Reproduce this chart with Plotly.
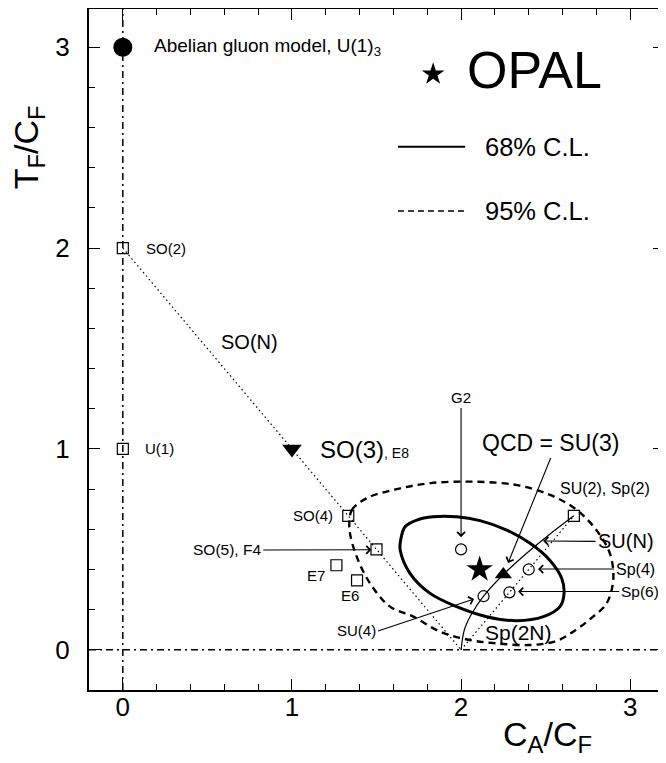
import plotly.graph_objects as go

# ---------------- data ----------------
abelian_x, abelian_y = [0.0], [3.0]
so3_x, so3_y = [1.0], [1.0]
qcd_x, qcd_y = [2.25], [0.375]
opal_x, opal_y = [2.11], [0.40]

square_names = ["SO(2)", "U(1)", "SO(4)", "SO(5)", "E7", "E6", "SU(2)"]
square_x = [0.0, 0.0, 1.333, 1.5, 1.263, 1.385, 2.667]
square_y = [2.0, 1.0, 0.667, 0.5, 0.421, 0.346, 0.667]

circle_names = ["G2", "SU(4)", "Sp(4)", "Sp(6)"]
circle_x = [2.0, 2.133, 2.4, 2.286]
circle_y = [0.5, 0.267, 0.4, 0.286]

son_x = [0.0, 2.0]
son_y = [2.0, 0.0]
sp2n_x = [2.0, 2.667]
sp2n_y = [0.0, 0.667]
sun_x = [2.667, 2.521, 2.381, 2.25, 2.133, 2.057, 2.02, 2.0]
sun_y = [0.667, 0.573, 0.476, 0.375, 0.267, 0.171, 0.101, 0.0]

cl68_x = [1.643, 1.669, 1.738, 1.836, 1.974, 2.112, 2.27, 2.408, 2.526, 2.595,
          2.609, 2.585, 2.487, 2.329, 2.151, 1.974, 1.817, 1.698, 1.64, 1.643]
cl68_y = [0.547, 0.613, 0.646, 0.662, 0.662, 0.643, 0.596, 0.53, 0.445, 0.356,
          0.281, 0.215, 0.165, 0.145, 0.165, 0.215, 0.281, 0.381, 0.497, 0.547]

cl95_x = [1.34, 1.354, 1.44, 1.62, 1.82, 2.07, 2.33, 2.53, 2.685, 2.80, 2.88, 2.90,
          2.86, 2.78, 2.68, 2.566, 2.41, 2.21, 2.05, 1.876, 1.718, 1.58, 1.461,
          1.383, 1.343, 1.34]
cl95_y = [0.64, 0.696, 0.754, 0.80, 0.83, 0.837, 0.82, 0.77, 0.696, 0.596, 0.48, 0.35,
          0.23, 0.165, 0.10, 0.045, 0.024, 0.032, 0.049, 0.09, 0.165, 0.215, 0.332,
          0.464, 0.58, 0.64]

x_ticks = [0, 1, 2, 3]
y_ticks = [0, 1, 2, 3]

FONT = "Liberation Sans, Arial, sans-serif"

fig = go.Figure()

# reference lines
fig.add_hline(y=0, line=dict(color="black", width=1.5, dash="7px,4px,2px,4px"))
fig.add_vline(x=0, line=dict(color="black", width=1.5, dash="7px,4px,2px,4px"))

# SO(N), Sp(2N) dotted lines, SU(N) curve
fig.add_trace(go.Scatter(x=son_x, y=son_y, mode="lines",
                         line=dict(color="black", width=1.2, dash="1.5px,3px")))
fig.add_trace(go.Scatter(x=sp2n_x, y=sp2n_y, mode="lines",
                         line=dict(color="black", width=1.2, dash="1.5px,3px")))
fig.add_trace(go.Scatter(x=sun_x, y=sun_y, mode="lines", line_shape="spline",
                         line=dict(color="black", width=1.2)))

# contours
fig.add_trace(go.Scatter(x=cl68_x, y=cl68_y, mode="lines", line_shape="spline",
                         line=dict(color="black", width=3)))
fig.add_trace(go.Scatter(x=cl95_x, y=cl95_y, mode="lines", line_shape="spline",
                         line=dict(color="black", width=2.4, dash="7px,5px")))

# markers
fig.add_trace(go.Scatter(x=square_x, y=square_y, mode="markers", text=square_names,
                         marker=dict(symbol="square-open", size=11, color="black",
                                     line=dict(width=1.2))))
fig.add_trace(go.Scatter(x=circle_x, y=circle_y, mode="markers", text=circle_names,
                         marker=dict(symbol="circle-open", size=11, color="black",
                                     line=dict(width=1.2))))
fig.add_trace(go.Scatter(x=abelian_x, y=abelian_y, mode="markers",
                         marker=dict(symbol="circle", size=19, color="black")))
fig.add_trace(go.Scatter(x=so3_x, y=so3_y, mode="markers",
                         marker=dict(symbol="triangle-down", size=17, color="black")))
fig.add_trace(go.Scatter(x=qcd_x, y=qcd_y, mode="markers",
                         marker=dict(symbol="triangle-up", size=15, color="black")))
fig.add_trace(go.Scatter(x=opal_x, y=opal_y, mode="markers",
                         marker=dict(symbol="star", size=20, color="black")))
# OPAL key marker
fig.add_trace(go.Scatter(x=[1.835], y=[2.866], mode="markers",
                         marker=dict(symbol="star", size=17, color="black")))

# key lines
fig.add_shape(type="line", x0=1.627, x1=2.024, y0=2.504, y1=2.504,
              line=dict(color="black", width=2))
fig.add_shape(type="line", x0=1.627, x1=2.024, y0=2.185, y1=2.185,
              line=dict(color="black", width=1.5, dash="6px,4px"))

ann = []
def label(text, x, y, size, xanchor="center"):
    ann.append(dict(text=text, x=x, y=y, xref="x", yref="y", showarrow=False,
                    xanchor=xanchor, yanchor="middle",
                    font=dict(family=FONT, size=size, color="black")))

def arrow_label(text, size, hx, hy, tx, ty, xanchor="center", yanchor="middle"):
    # text box anchored at the arrow tail, arrow drawn to the head
    ann.append(dict(text=text, x=hx, y=hy, ax=tx, ay=ty, xref="x", yref="y",
                    axref="x", ayref="y", showarrow=True, arrowhead=4,
                    arrowsize=1.4, arrowwidth=1.1, arrowcolor="black", standoff=0,
                    xanchor=xanchor, yanchor=yanchor,
                    font=dict(family=FONT, size=size, color="black")))

label("Abelian gluon model, U(1)<sub>3</sub>", 0.173, 3.0, 19, "left")
label("SO(2)", 0.126, 2.0, 15, "left")
label("U(1)", 0.119, 1.0, 15, "left")
label("SO(N)", 0.749, 1.532, 20)
label("SO(3)<span style='font-size:14px'>, E8</span>", 1.154, 0.997, 24, "left")
label("SO(4)", 1.255, 0.671, 15, "right")
label("E7", 1.208, 0.372, 15, "right")
label("E6", 1.344, 0.268, 15)
label("SU(2), Sp(2)", 2.849, 0.805, 16)
label("Sp(2N)", 2.337, 0.088, 21)
label("OPAL", 2.024, 2.886, 52, "left")
label("68% C.L.", 2.130, 2.504, 25.5, "left")
label("95% C.L.", 2.130, 2.185, 25.5, "left")

arrow_label("SO(5), F4", 15.5, 1.470, 0.498, 0.83, 0.497, xanchor="right")
arrow_label("SU(4)", 15, 2.077, 0.253, 1.509, 0.094, xanchor="right")
arrow_label("G2", 15, 2.0, 0.561, 2.0, 1.204, yanchor="bottom")
arrow_label("QCD = SU(3)", 23, 2.278, 0.432, 2.53, 0.955, yanchor="bottom")
arrow_label("SU(N)", 20, 2.485, 0.542, 2.795, 0.540, xanchor="left")
arrow_label("Sp(4)", 16, 2.455, 0.402, 2.905, 0.402, xanchor="left")
arrow_label("Sp(6)", 15.5, 2.337, 0.290, 2.935, 0.290, xanchor="left")

# axis titles
ann.append(dict(text="T<sub>F</sub>/C<sub>F</sub>", x=-0.106, y=0.797, xref="paper",
                yref="paper", showarrow=False, textangle=-90,
                xanchor="center", yanchor="middle",
                font=dict(family=FONT, size=34, color="black")))
ann.append(dict(text="C<sub>A</sub>/C<sub>F</sub>", x=0.797, y=-0.069, xref="paper",
                yref="paper", showarrow=False, xanchor="center", yanchor="middle",
                font=dict(family=FONT, size=34, color="black")))

axis_common = dict(showgrid=False, zeroline=False, showline=True, linecolor="black",
                   linewidth=2, mirror="ticks", ticks="inside", ticklen=11,
                   tickwidth=1.3, tickcolor="black", automargin=False,
                   tickfont=dict(family=FONT, size=26, color="black"),
                   minor=dict(dtick=0.2, ticks="inside", ticklen=6, tickwidth=1,
                              tickcolor="black"))

fig.update_layout(
    width=658, height=755,
    margin=dict(l=81, r=2, t=1, b=73),
    paper_bgcolor="white", plot_bgcolor="white",
    showlegend=False,
    annotations=ann,
    xaxis=dict(range=[-0.2, 3.2], tickvals=x_ticks, ticklabelstandoff=-7, **axis_common),
    yaxis=dict(range=[-0.2, 3.19], tickvals=y_ticks, ticklabelstandoff=12, **axis_common),
)

fig.write_html("out.html")
